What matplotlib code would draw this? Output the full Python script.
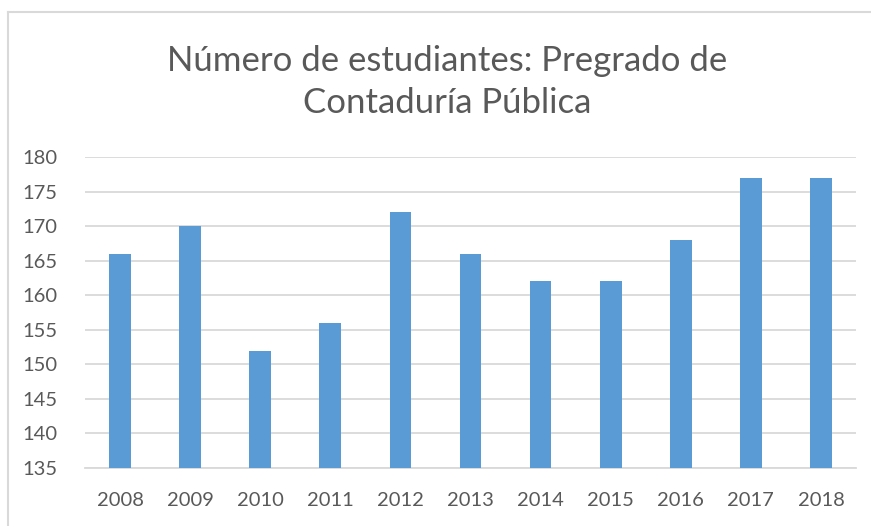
import matplotlib.pyplot as plt
from matplotlib.lines import Line2D

years = ["2008", "2009", "2010", "2011", "2012", "2013", "2014", "2015", "2016", "2017", "2018"]
students = [166, 170, 152, 156, 172, 166, 162, 162, 168, 177, 177]
y_ticks = [135, 140, 145, 150, 155, 160, 165, 170, 175, 180]

plt.rcParams["font.family"] = ["Lato", "DejaVu Sans"]
text_color = "#595959"
grid_color = "#D9D9D9"

fig = plt.figure(figsize=(8.71, 5.26), dpi=100)
ax = fig.add_axes([85 / 871, 1 - 468 / 526, (856 - 85) / 871, (468 - 157) / 526])

x = range(len(years))
ax.bar(x, [v - 135 for v in students], bottom=135, width=0.31, color="#5B9BD5", zorder=3)

ax.set_xlim(-0.5, len(years) - 0.5)
ax.set_ylim(135, 180)
ax.set_yticks(y_ticks)
ax.set_xticks(list(x))
ax.set_xticklabels(years)
ax.yaxis.grid(True, color=grid_color, lw=1.3, zorder=0)
ax.tick_params(axis="both", length=0, labelsize=14.5, labelcolor=text_color)
ax.tick_params(axis="y", pad=20)
ax.tick_params(axis="x", pad=17)
for side in ["top", "right", "left"]:
    ax.spines[side].set_visible(False)
ax.spines["bottom"].set_color(grid_color)
ax.spines["bottom"].set_linewidth(1.3)

fig.text(447 / 871, 1 - 82 / 526, "Número de estudiantes: Pregrado de\nContaduría Pública",
         ha="center", va="center", fontsize=25, color=text_color, linespacing=1.38)

# chart border (only top and left visible in the crop)
fig.add_artist(Line2D([8 / 871, 1], [1 - 12 / 526, 1 - 12 / 526], color=grid_color, lw=1.5))
fig.add_artist(Line2D([8 / 871, 8 / 871], [0, 1 - 12 / 526], color=grid_color, lw=1.5))

fig.savefig("out.png", dpi=100)
